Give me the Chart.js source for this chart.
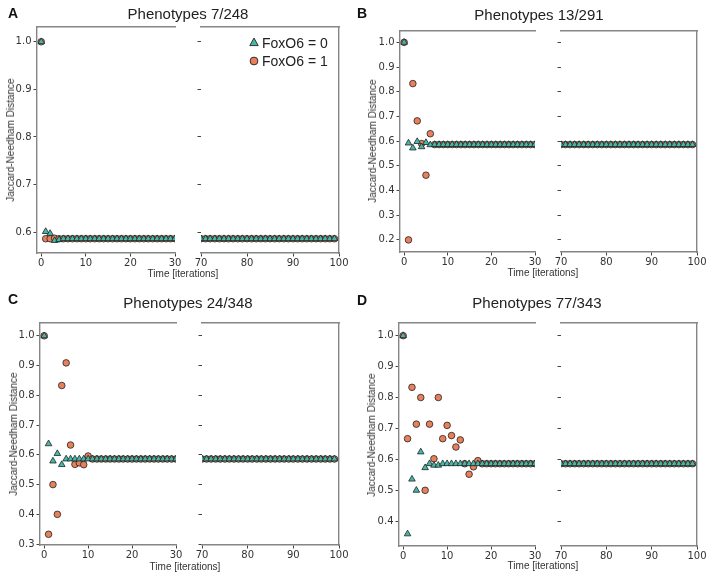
<!DOCTYPE html>
<html><head><meta charset="utf-8">
<script src="https://cdn.jsdelivr.net/npm/chart.js@4.4.1/dist/chart.umd.min.js"></script>
<style>
html,body{margin:0;padding:0;background:#fff;}
#wrap{position:relative;width:708px;height:577px;overflow:hidden;font-family:'Liberation Sans',Arial,sans-serif;}
#wrap canvas{position:absolute;}
.t{position:absolute;white-space:nowrap;transform:translate(-50%,-50%);line-height:1;}
.title{font-size:15px;color:#222;}
.letter{font-size:14px;font-weight:bold;color:#111;}
.axl{font-size:10px;color:#333;}
.ylab{transform:translate(-50%,-50%) rotate(-90deg);}
.leg{position:absolute;font-size:14px;color:#222;white-space:nowrap;line-height:1;transform:translateY(-50%);}
.leg svg{position:absolute;}
</style></head><body><div id="wrap"></div>
<script>
// ---------- data ----------
const earlyIterations = [0,1,2,3,4,5,6,7,8,9,10,11,12,13,14,15,16,17,18,19,20,21,22,23,24,25,26,27,28,29,30];
const lateIterations = [70,71,72,73,74,75,76,77,78,79,80,81,82,83,84,85,86,87,88,89,90,91,92,93,94,95,96,97,98,99];
const xTicksEarly = [0,10,20,30];
const xTicksLate = [70,80,90,100];
const seriesLabels = ['FoxO6 = 0','FoxO6 = 1'];
const panelTitles = ['Phenotypes 7/248','Phenotypes 13/291','Phenotypes 24/348','Phenotypes 77/343'];
const panelLetters = ['A','B','C','D'];
const axisTitleX = 'Time [iterations]';
const axisTitleY = 'Jaccard-Needham Distance';

const yTicksA = [0.6,0.7,0.8,0.9,1.0];
const yTicksB = [0.2,0.3,0.4,0.5,0.6,0.7,0.8,0.9,1.0];
const yTicksC = [0.3,0.4,0.5,0.6,0.7,0.8,0.9,1.0];
const yTicksD = [0.4,0.5,0.6,0.7,0.8,0.9,1.0];

// Panel A
const earlyA0 = [1.0,0.601,0.597,0.582,0.584,0.586,0.586,0.586,0.586,0.586,0.586,0.586,0.586,0.586,0.586,0.586,0.586,0.586,0.586,0.586,0.586,0.586,0.586,0.586,0.586,0.586,0.586,0.586,0.586,0.586,0.586];
const earlyA1 = [1.0,0.586,0.586,0.587,0.586,0.586,0.586,0.586,0.586,0.586,0.586,0.586,0.586,0.586,0.586,0.586,0.586,0.586,0.586,0.586,0.586,0.586,0.586,0.586,0.586,0.586,0.586,0.586,0.586,0.586,0.586];
const lateA0 = [0.586,0.586,0.586,0.586,0.586,0.586,0.586,0.586,0.586,0.586,0.586,0.586,0.586,0.586,0.586,0.586,0.586,0.586,0.586,0.586,0.586,0.586,0.586,0.586,0.586,0.586,0.586,0.586,0.586,0.586];
const lateA1 = [0.586,0.586,0.586,0.586,0.586,0.586,0.586,0.586,0.586,0.586,0.586,0.586,0.586,0.586,0.586,0.586,0.586,0.586,0.586,0.586,0.586,0.586,0.586,0.586,0.586,0.586,0.586,0.586,0.586,0.586];
// Panel B
const earlyB0 = [1.0,0.592,0.572,0.598,0.577,0.594,0.585,0.586,0.586,0.586,0.586,0.586,0.586,0.586,0.586,0.586,0.586,0.586,0.586,0.586,0.586,0.586,0.586,0.586,0.586,0.586,0.586,0.586,0.586,0.586,0.586];
const earlyB1 = [1.0,0.2,0.833,0.682,0.590,0.462,0.630,0.586,0.586,0.586,0.586,0.586,0.586,0.586,0.586,0.586,0.586,0.586,0.586,0.586,0.586,0.586,0.586,0.586,0.586,0.586,0.586,0.586,0.586,0.586,0.586];
const lateB0 = [0.586,0.586,0.586,0.586,0.586,0.586,0.586,0.586,0.586,0.586,0.586,0.586,0.586,0.586,0.586,0.586,0.586,0.586,0.586,0.586,0.586,0.586,0.586,0.586,0.586,0.586,0.586,0.586,0.586,0.586];
const lateB1 = [0.586,0.586,0.586,0.586,0.586,0.586,0.586,0.586,0.586,0.586,0.586,0.586,0.586,0.586,0.586,0.586,0.586,0.586,0.586,0.586,0.586,0.586,0.586,0.586,0.586,0.586,0.586,0.586,0.586,0.586];
// Panel C
const earlyC0 = [1.0,0.637,0.579,0.604,0.567,0.586,0.586,0.586,0.586,0.586,0.586,0.586,0.586,0.586,0.586,0.586,0.586,0.586,0.586,0.586,0.586,0.586,0.586,0.586,0.586,0.586,0.586,0.586,0.586,0.586,0.586];
const earlyC1 = [1.0,0.333,0.5,0.4,0.833,0.909,0.633,0.568,0.573,0.567,0.596,0.586,0.586,0.586,0.586,0.586,0.586,0.586,0.586,0.586,0.586,0.586,0.586,0.586,0.586,0.586,0.586,0.586,0.586,0.586,0.586];
const lateC0 = [0.586,0.586,0.586,0.586,0.586,0.586,0.586,0.586,0.586,0.586,0.586,0.586,0.586,0.586,0.586,0.586,0.586,0.586,0.586,0.586,0.586,0.586,0.586,0.586,0.586,0.586,0.586,0.586,0.586,0.586];
const lateC1 = [0.586,0.586,0.586,0.586,0.586,0.586,0.586,0.586,0.586,0.586,0.586,0.586,0.586,0.586,0.586,0.586,0.586,0.586,0.586,0.586,0.586,0.586,0.586,0.586,0.586,0.586,0.586,0.586,0.586,0.586];
// Panel D
const earlyD0 = [1.0,0.359,0.536,0.5,0.624,0.573,0.586,0.581,0.581,0.586,0.586,0.586,0.586,0.586,0.586,0.586,0.586,0.586,0.586,0.586,0.586,0.586,0.586,0.586,0.586,0.586,0.586,0.586,0.586,0.586,0.586];
const earlyD1 = [1.0,0.667,0.833,0.714,0.8,0.5,0.714,0.602,0.8,0.667,0.710,0.677,0.640,0.663,0.586,0.552,0.576,0.596,0.586,0.586,0.586,0.586,0.586,0.586,0.586,0.586,0.586,0.586,0.586,0.586,0.586];
const lateD0 = [0.586,0.586,0.586,0.586,0.586,0.586,0.586,0.586,0.586,0.586,0.586,0.586,0.586,0.586,0.586,0.586,0.586,0.586,0.586,0.586,0.586,0.586,0.586,0.586,0.586,0.586,0.586,0.586,0.586,0.586];
const lateD1 = [0.586,0.586,0.586,0.586,0.586,0.586,0.586,0.586,0.586,0.586,0.586,0.586,0.586,0.586,0.586,0.586,0.586,0.586,0.586,0.586,0.586,0.586,0.586,0.586,0.586,0.586,0.586,0.586,0.586,0.586];

// ---------- styles / layout ----------
const TEAL = '#45b8a8';
const ORANGE = '#e8805c';
const EDGE = '#222';
const SPINE = '#858585';
const TICKCOL = '#444';

const panels = [
  {letter:panelLetters[0], title:panelTitles[0], yTicks:yTicksA, yMin:0.556, yMax:1.031,
   early:[earlyA0,earlyA1], late:[lateA0,lateA1],
   left:[37,27,175,253], right:[201,27,339,253], letterPos:[13,13], titlePos:[188,13], ylabPos:[11,140], xlabPos:[183,274], legend:true},
  {letter:panelLetters[1], title:panelTitles[1], yTicks:yTicksB, yMin:0.151, yMax:1.046,
   early:[earlyB0,earlyB1], late:[lateB0,lateB1],
   left:[400,31,535,252], right:[561,31,697,252], letterPos:[362,13], titlePos:[539,13.5], ylabPos:[373,141], xlabPos:[543,273]},
  {letter:panelLetters[2], title:panelTitles[2], yTicks:yTicksC, yMin:0.297, yMax:1.043,
   early:[earlyC0,earlyC1], late:[lateC0,lateC1],
   left:[40,323,176,545], right:[202,323,339,545], letterPos:[13,299], titlePos:[188,302], ylabPos:[14,434], xlabPos:[185,566.5]},
  {letter:panelLetters[3], title:panelTitles[3], yTicks:yTicksD, yMin:0.320, yMax:1.041,
   early:[earlyD0,earlyD1], late:[lateD0,lateD1],
   left:[399,323,535,546], right:[561,323,697,546], letterPos:[362,300], titlePos:[537,302], ylabPos:[372,435], xlabPos:[543,566]}
];

const wrap = document.getElementById('wrap');
Chart.defaults.font.family = "'DejaVu Sans', sans-serif";

function addText(cls, txt, x, y) {
  const d = document.createElement('div');
  d.className = 't ' + cls;
  d.textContent = txt;
  d.style.left = x + 'px'; d.style.top = y + 'px';
  wrap.appendChild(d);
}

function toPoints(xs, ys) { return xs.map((x, i) => ({x: x, y: ys[i]})); }

function makeChart(p, side) {
  const rect = side === 'left' ? p.left : p.right;
  const [L, T, R, B] = rect;
  const M = 40, Hx = 18;
  const Wy = side === 'left' ? 36 : 6;
  const w = R - L + 2 * M, h = B - T + 2 * M;
  const cv = document.createElement('canvas');
  cv.width = w; cv.height = h;
  cv.style.left = (L - M) + 'px'; cv.style.top = (T - M) + 'px';
  cv.style.width = w + 'px'; cv.style.height = h + 'px';
  wrap.appendChild(cv);
  const iters = side === 'left' ? earlyIterations : lateIterations;
  const vals = side === 'left' ? p.early : p.late;
  const xTicks = side === 'left' ? xTicksEarly : xTicksLate;
  const scales = {
    x: {
      type: 'linear', position: 'bottom',
      min: side === 'left' ? -0.95 : 70, max: side === 'left' ? 30 : 100,
      afterBuildTicks: s => { s.ticks = xTicks.map(v => ({value: v})); },
      afterFit: s => { s.height = Hx; },
      ticks: {color: '#333', font: {size: 10}, padding: 1, maxRotation: 0, callback: v => String(v)},
      grid: {display: true, drawOnChartArea: false, drawTicks: true, tickLength: 3.5, tickColor: TICKCOL, tickWidth: 1},
      border: {display: true, color: SPINE, width: 1.4}
    },
    xTop: {
      type: 'linear', position: 'top', min: 0, max: 1,
      afterFit: s => { s.height = 0; },
      ticks: {display: false}, grid: {display: false, drawTicks: false},
      border: {display: true, color: SPINE, width: 1.4}
    },
    y: {
      type: 'linear', position: 'left', min: p.yMin, max: p.yMax,
      afterBuildTicks: s => { s.ticks = p.yTicks.map(v => ({value: v})); },
      afterFit: s => { s.width = Wy; },
      ticks: {display: side === 'left', color: '#333', font: {size: 10}, padding: 2, callback: v => v.toFixed(1)},
      grid: {display: true, drawOnChartArea: false, drawTicks: true, tickLength: 3.5, tickColor: TICKCOL, tickWidth: 1},
      border: {display: side === 'left', color: SPINE, width: 1.4}
    }
  };
  if (side === 'right') {
    scales.yRight = {
      type: 'linear', position: 'right', min: 0, max: 1,
      afterFit: s => { s.width = 0; },
      ticks: {display: false}, grid: {display: false, drawTicks: false},
      border: {display: true, color: SPINE, width: 1.4}
    };
  }
  new Chart(cv, {
    type: 'scatter',
    data: {
      datasets: [
        {label: seriesLabels[0], data: toPoints(iters, vals[0]), xAxisID: 'x', yAxisID: 'y',
         pointStyle: 'triangle', pointRadius: 3.8, backgroundColor: TEAL, borderColor: EDGE, borderWidth: 0.8, clip: 0},
        {label: seriesLabels[1], data: toPoints(iters, vals[1]), xAxisID: 'x', yAxisID: 'y',
         pointStyle: 'circle', pointRadius: 3.3, backgroundColor: ORANGE, borderColor: EDGE, borderWidth: 0.8, clip: 0}
      ]
    },
    options: {
      responsive: false, animation: false, devicePixelRatio: 1, events: [],
      layout: {padding: {left: M - Wy, top: M, right: M, bottom: M - Hx}},
      plugins: {legend: {display: false}, tooltip: {enabled: false}},
      scales: scales
    }
  });
}

panels.forEach(p => {
  makeChart(p, 'left');
  makeChart(p, 'right');
  addText('letter', p.letter, p.letterPos[0], p.letterPos[1]);
  addText('title', p.title, p.titlePos[0], p.titlePos[1]);
  addText('axl', axisTitleX, p.xlabPos[0], p.xlabPos[1]);
  addText('axl ylab', axisTitleY, p.ylabPos[0], p.ylabPos[1]);
  if (p.legend) {
    const items = [
      {txt: seriesLabels[0], y: 43, svg: `<svg width="10" height="10" style="left:-13px;top:1px"><polygon points="5,1 9.2,8.6 0.8,8.6" fill="${TEAL}" stroke="${EDGE}" stroke-width="0.9"/></svg>`},
      {txt: seriesLabels[1], y: 61, svg: `<svg width="10" height="10" style="left:-13px;top:2px"><circle cx="5" cy="5" r="3.9" fill="${ORANGE}" stroke="${EDGE}" stroke-width="0.9"/></svg>`}
    ];
    items.forEach(it => {
      const d = document.createElement('div');
      d.className = 'leg';
      d.style.left = '262px'; d.style.top = it.y + 'px';
      d.innerHTML = it.svg + '<span>' + it.txt + '</span>';
      wrap.appendChild(d);
    });
  }
});
</script></body></html>
